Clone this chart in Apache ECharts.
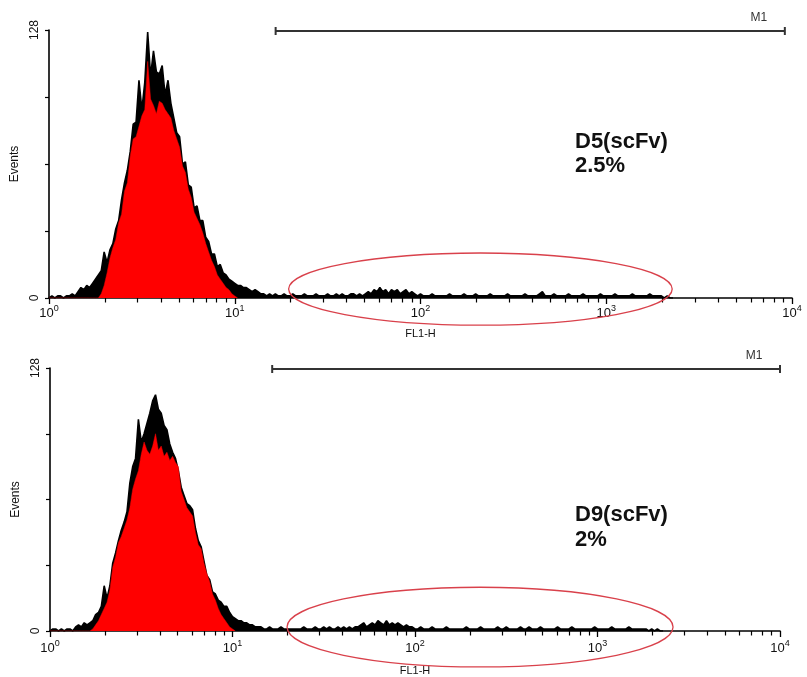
<!DOCTYPE html>
<html><head><meta charset="utf-8">
<script src="https://cdn.jsdelivr.net/npm/echarts@6/dist/echarts.min.js"></script>
<style>html,body{margin:0;padding:0;background:#fff}#c{width:807px;height:677px}</style>
</head><body><div id="c"></div><script>
// ---- data ----
const binsPerDecade = 64; // instrument log channels per decade (bin i centre = 10^(i/64))
const decadeTicks = [1, 10, 100, 1000, 10000];
const xTickBase = '10';
const xTickExponents = ['0', '1', '2', '3', '4'];
const minorTicks = [2,3,4,5,6,7,8,9,20,30,40,50,60,70,80,90,200,300,400,500,600,700,800,900,2000,3000,4000,5000,6000,7000,8000,9000];
const yTickLabels = [0, 128];
const panelNames = ['D5(scFv)', 'D9(scFv)'];
const panelPercents = ['2.5%', '2%'];

// D5 panel: black outline histogram (bins 0..215), red filled histogram (bins 0..65)
const d5Black = [
  0,1,0,1,1,0,1,1,2,1, 3,5,4,6,5,7,9,11,13,22, 17,23,26,33,37,47,55,61,70,83,
  84,104,90,103,127,106,118,108,107,111, 97,104,93,86,79,77,64,65,54,53,
  43,44,37,37,29,27,21,21,15,16, 12,11,9,8,7,6,6,5,5,4, 3,4,3,2,2,1,
  2,1,2,1,1,2,1,1,2,1, 1,1,2,1,1,1,2,1,1,1, 2,1,1,2,1,2,1,1,2,2,
  1,2,1,2, 3,2,4,3,5,3,4,2,4,3, 4,2,3,4,2,3,2,1,
  2,1,1,1,2,1,1,1, 1,1,2,1,1,1,1,2,1,1, 1,2,1,1,1,1,2,1,1,1,
  1,1,2,1,1,1,1,1,2,1, 1,1,1,2,3,1,1,1,2,1, 1,1,1,2,1,1,1,1,2,1,
  1,1,1,1,2,1,1,1,1,2, 1,1,1,1,1,2,1,1,1,1, 1,2,1,1,1,1,0,1,0,0
];
const d5Red = [
  0,0,0,0,0,0,0,0,0,0, 0,0,0,0,0,0,0,0,2,6, 12,19,24,28,36,40,51,55,68,76,
  77,82,87,90,113,95,92,88,94,93, 90,88,86,80,76,72,63,60,52,48,
  41,38,35,31,26,22,18,15,11,9, 7,5,4,2,1,0
];
// D9 panel
const d9Black = [
  0,1,1,0,1,0,1,1,0,2, 3,2,4,3,4,5,8,9,12,22, 16,22,33,38,44,49,53,58,72,80,
  84,103,92,96,101,106,112,115,108,106, 100,98,91,87,84,78,70,66,62,61,
  59,50,44,41,34,27,25,19,18,15, 14,12,12,9,7,6,5,5,4,4, 3,3,2,2,2,1,
  1,2,1,1,1,2,1,1,1,1, 1,1,1,2,1,1,1,2,1,1, 2,1,2,1,1,2,1,2,1,2,
  1,2,2,3,4,2,3,4,3,5, 4,3,5,3,4,3,4,3,2,3, 2,2,1,1,2,1,1,1,2,1,
  1,1,1,2,1,1,1,1,1,1, 2,1,1,1,1,2,1,1,1,1, 1,2,1,1,2,1,1,1,1,2,
  1,1,2,1,1,1,2,1,1,1, 1,1,2,1,1,1,1,2,1,1, 1,1,1,1,1,2,1,1,1,1,
  1,2,1,1,1,1,1,2,1,1, 1,1,1,1,0,1,0,1,0,0
];
const d9Red = [
  0,0,0,0,0,0,0,0,0,0, 0,0,0,0,0,1,3,5,8,11, 14,20,31,36,43,46,50,54,60,69,
  74,78,86,92,88,86,90,96,88,90, 85,87,83,85,82,80,68,64,60,58,
  56,48,42,40,33,28,24,18,15,11, 8,6,4,2,1,0
];

// ---- annotation layout (not data) ----
const gates = [
  { x: [19.5, 2265], y: [-13, 21.5] },
  { x: [19.9, 2594], y: [-17.5, 21.3] }
];
const m1Ranges = [[16.6, 9150], [16.5, 10000]];

const toSeriesData = arr => arr.map((c, i) => [Math.pow(10, i / binsPerDecade), c]);

const grids = [
  { left: 49, right: 15, top: 30, height: 268 },
  { left: 50, right: 27, top: 368, height: 264 }
];
const labelMargins = [6, 8];
const nameGaps = [30, 34];

const xAxes = [], yAxes = [], series = [];
const blacks = [d5Black, d9Black], reds = [d5Red, d9Red];
grids.forEach((g, gi) => {
  xAxes.push({
    type: 'log', logBase: 10, min: 1, max: 10000, gridIndex: gi, position: 'bottom',
    axisLine: { lineStyle: { color: '#000', width: 1.6 } },
    axisTick: { customValues: decadeTicks, length: 6, lineStyle: { color: '#000', width: 1.3 } },
    axisLabel: {
      customValues: decadeTicks, margin: labelMargins[gi],
      formatter: v => '{b|' + xTickBase + '}{s|' + xTickExponents[Math.round(Math.log10(v))] + '}',
      rich: {
        b: { fontSize: 13, fontFamily: 'Arial', color: '#111', lineHeight: 16, verticalAlign: 'bottom' },
        s: { fontSize: 9, fontFamily: 'Arial', color: '#111', lineHeight: 10, verticalAlign: 'top' }
      }
    },
    splitLine: { show: false },
    name: 'FL1-H', nameLocation: 'middle', nameGap: nameGaps[gi],
    nameTextStyle: { fontSize: 11, color: '#111', fontFamily: 'Arial' }
  });
  xAxes.push({
    type: 'log', logBase: 10, min: 1, max: 10000, gridIndex: gi, position: 'bottom',
    axisLine: { show: false },
    axisTick: { customValues: minorTicks, length: 4.5, lineStyle: { color: '#000', width: 1.2 } },
    axisLabel: { show: false }, splitLine: { show: false }
  });
  yAxes.push({
    type: 'value', min: 0, max: 128, interval: 32, gridIndex: gi,
    axisLine: { show: true, lineStyle: { color: '#000', width: 1.6 } },
    axisTick: { show: true, length: 4, lineStyle: { color: '#000', width: 1.2 } },
    axisLabel: { customValues: yTickLabels, rotate: 90, color: '#111', fontSize: 12, fontFamily: 'Arial', margin: 8 },
    splitLine: { show: false },
    name: 'Events', nameLocation: 'middle', nameGap: 25, nameRotate: 90,
    nameTextStyle: { fontSize: 12, color: '#111', fontFamily: 'Arial' }
  });
  series.push({
    type: 'line', xAxisIndex: gi * 2, yAxisIndex: gi, data: toSeriesData(blacks[gi]),
    symbol: 'none', lineStyle: { color: '#000', width: 1.6 },
    areaStyle: { color: '#000', opacity: 1 }, z: 2, silent: true
  });
  series.push({
    type: 'line', xAxisIndex: gi * 2, yAxisIndex: gi, data: toSeriesData(reds[gi]),
    symbol: 'none', lineStyle: { color: '#e00', width: 0.5 },
    areaStyle: { color: '#ff0000', opacity: 1 }, z: 3, silent: true
  });
});

const chart = echarts.init(document.getElementById('c'), null, { renderer: 'canvas' });
chart.setOption({
  animation: false, backgroundColor: '#fff',
  grid: grids, xAxis: xAxes, yAxis: yAxes, series: series
});

const graphics = [];
const textTops = [[142, 166], [515, 540]];
grids.forEach((g, gi) => {
  const finder = { xAxisIndex: gi * 2, yAxisIndex: gi };
  const a = chart.convertToPixel(finder, [gates[gi].x[0], gates[gi].y[0]]);
  const b = chart.convertToPixel(finder, [gates[gi].x[1], gates[gi].y[1]]);
  graphics.push({
    type: 'ellipse', z: 10, silent: true,
    shape: { cx: (a[0] + b[0]) / 2, cy: (a[1] + b[1]) / 2, rx: Math.abs(b[0] - a[0]) / 2, ry: Math.abs(b[1] - a[1]) / 2 },
    style: { fill: 'none', stroke: '#d9414b', lineWidth: 1.3 }
  });
  const m0 = chart.convertToPixel(finder, [m1Ranges[gi][0], 128]);
  const m1 = chart.convertToPixel(finder, [m1Ranges[gi][1], 128]);
  const yy = m0[1] + 1;
  graphics.push({ type: 'line', z: 10, shape: { x1: m0[0], y1: yy, x2: m1[0], y2: yy }, style: { stroke: '#333', lineWidth: 2 } });
  graphics.push({ type: 'line', z: 10, shape: { x1: m0[0], y1: yy - 4, x2: m0[0], y2: yy + 4 }, style: { stroke: '#333', lineWidth: 2 } });
  graphics.push({ type: 'line', z: 10, shape: { x1: m1[0], y1: yy - 4, x2: m1[0], y2: yy + 4 }, style: { stroke: '#333', lineWidth: 2 } });
  graphics.push({ type: 'text', z: 10, style: { text: 'M1', x: m1[0] - 26, y: yy - 13, font: '12px Arial', fill: '#333', textAlign: 'center', textVerticalAlign: 'middle' } });
  graphics.push({ type: 'text', z: 10, style: { text: panelNames[gi], x: 575, y: textTops[gi][0], font: 'bold 22px Arial', fill: '#111', textAlign: 'left', textVerticalAlign: 'middle' } });
  graphics.push({ type: 'text', z: 10, style: { text: panelPercents[gi], x: 575, y: textTops[gi][1], font: 'bold 22px Arial', fill: '#111', textAlign: 'left', textVerticalAlign: 'middle' } });
});
chart.setOption({ graphic: graphics });
</script></body></html>
